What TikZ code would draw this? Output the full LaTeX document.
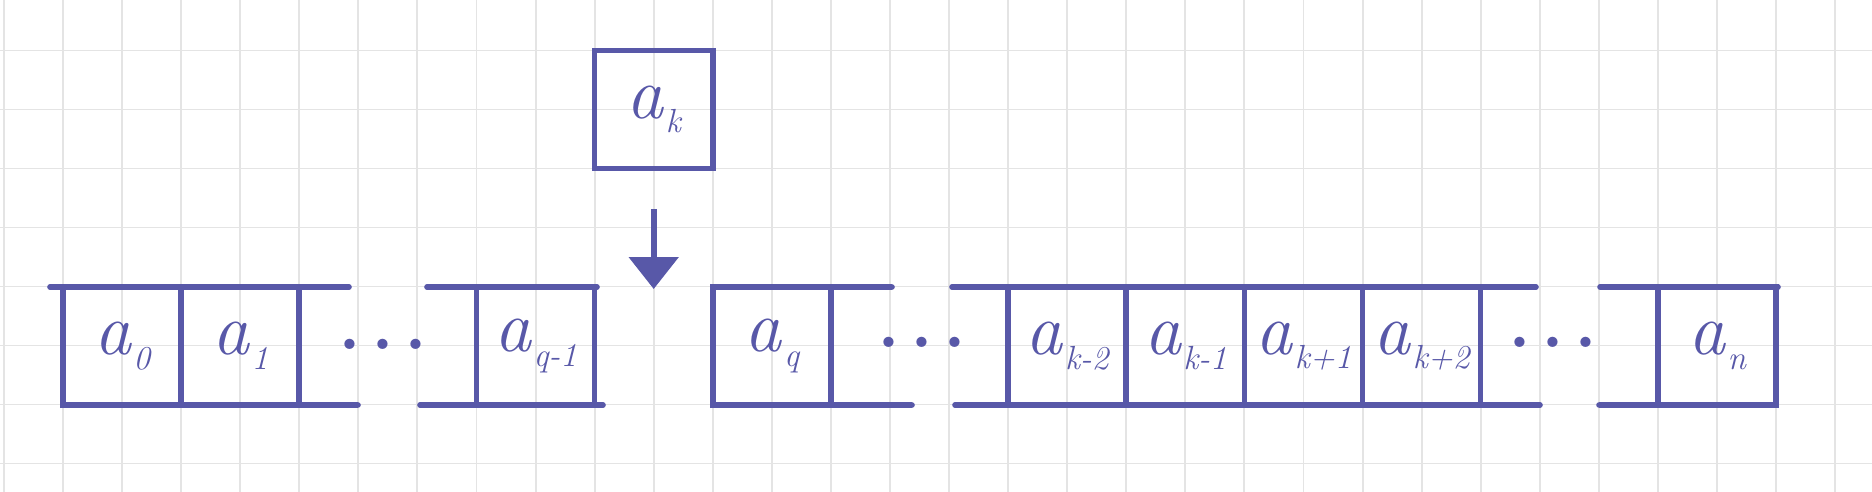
\documentclass[tikz,border=0pt]{standalone}
\usetikzlibrary{arrows.meta}
\definecolor{ink}{RGB}{88,88,168}
\definecolor{gridc}{RGB}{228,228,228}
\newcommand{\elem}[1]{\textit{a}\kern0.02em\raisebox{-0.2em}{\fontsize{19}{19}\selectfont\itshape #1}}
\newcommand{\onedot}{\makebox[19pt]{\textbullet}}
\newcommand{\threedots}{\onedot\onedot\onedot}
\begin{document}
\begin{tikzpicture}[x=0.02cm,y=-0.02cm,
  gridline/.style={gridc, line width=1.1pt},
  inkline/.style={ink, line width=3.2pt, line cap=round},
  cell/.style={draw=ink, line width=3.2pt, rectangle, inner sep=0pt, outer sep=0pt,
    minimum width=2.362cm, minimum height=2.36cm, text=ink,
    font=\fontsize{42}{46}\selectfont},
  dotsnode/.style={text=ink, inner sep=0pt, font=\fontsize{26}{26}\selectfont},
  insert/.style={inkline, line cap=butt, -{Triangle[width=0.98cm,length=0.64cm]}}]
\useasboundingbox (0,0) rectangle (1872,492);
\fill[white] (0,0) rectangle (1872,492);
% graph paper
\foreach \k in {-1,...,30} \draw[gridline] ({63+59.07*\k},0) -- ({63+59.07*\k},492);
\foreach \k in {0,...,7} \draw[gridline] (0,{50.5+59*\k}) -- (1872,{50.5+59*\k});
% element to insert
\node[cell] (K) at (653.7,109.5) {\elem{k}};
% array cells
\node[cell] (a0) at (122.1,346) {\elem{0}};
\node[cell] (a1) at (240.2,346) {\elem{1}};
\node[cell] (aq1) at (535.6,346) {\elem{q-1}};
\node[cell] (aq) at (771.9,346) {\elem{q}};
\node[cell] (ak2) at (1067.2,346) {\elem{k-2}};
\node[cell] (ak1) at (1185.4,346) {\elem{k-1}};
\node[cell] (akp1) at (1303.5,346) {\elem{k+1}};
\node[cell] (akp2) at (1421.6,346) {\elem{k+2}};
\node[cell] (an) at (1717.0,346) {\elem{n}};
% ellipses
\node[dotsnode] (d1) at (383,348) {\threedots};
\node[dotsnode] (d2) at (922,346) {\threedots};
\node[dotsnode] (d3) at (1553,346) {\threedots};
% open ends of the array segments
\coordinate (g1tl) at (50,287);
\coordinate (g1tr) at (349,287);
\coordinate (g1br) at (358,405);
\coordinate (g2tl) at (427,287);
\coordinate (g2bl) at (420,405);
\coordinate (g2tr) at (597,287);
\coordinate (g2br) at (603,405);
\coordinate (g3tr) at (892,287);
\coordinate (g3br) at (912,405);
\coordinate (g4tl) at (952,287);
\coordinate (g4bl) at (955,405);
\coordinate (g4tr) at (1536,287);
\coordinate (g4br) at (1540,405);
\coordinate (g5tl) at (1600,287);
\coordinate (g5bl) at (1599,405);
\coordinate (g5tr) at (1778,287);
\draw[inkline] (g1tl) -- (g1tr);
\draw[inkline] (a0.south west) -- (g1br);
\draw[inkline] (g2tl) -- (g2tr);
\draw[inkline] (g2bl) -- (g2br);
\draw[inkline] (aq.north west) -- (g3tr);
\draw[inkline] (aq.south west) -- (g3br);
\draw[inkline] (g4tl) -- (g4tr);
\draw[inkline] (g4bl) -- (g4br);
\draw[inkline] (g5tl) -- (g5tr);
\draw[inkline] (g5bl) -- (an.south east);
% insertion arrow
\coordinate (ins) at (653.7,289);
\draw[insert, shorten <=0.82cm] (K) -- (ins);
\end{tikzpicture}
\end{document}
